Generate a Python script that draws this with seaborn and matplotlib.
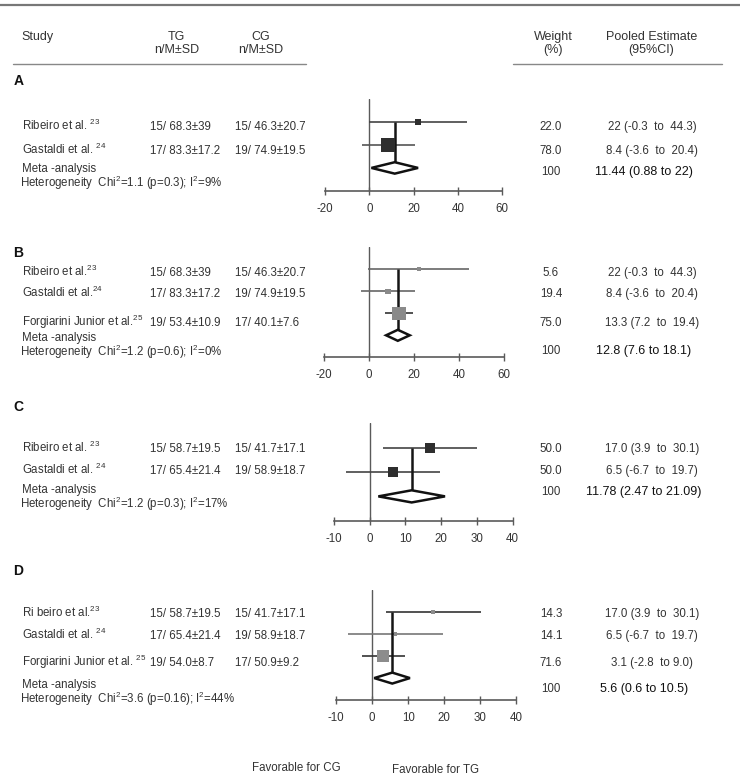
import matplotlib
matplotlib.use("Agg")
import matplotlib.pyplot as plt
from matplotlib.patches import Polygon
import seaborn as sns
import pandas as pd

sns.set_theme(style="white")
FAM = ['Liberation Sans', 'DejaVu Sans']
plt.rcParams['font.family'] = FAM
plt.rcParams['mathtext.fontset'] = 'custom'
plt.rcParams['mathtext.rm'] = 'Liberation Sans'
plt.rcParams['mathtext.it'] = 'Liberation Sans'
plt.rcParams['mathtext.bf'] = 'Liberation Sans:bold'

# ---------------- data ----------------
panel_labels = ["A", "B", "C", "D"]

studies_A = ["Ribeiro et al. ", "Gastaldi et al. "]
refs_A = ["23", "24"]
tg_A = ["15/ 68.3±39", "17/ 83.3±17.2"]
cg_A = ["15/ 46.3±20.7", "19/ 74.9±19.5"]
est_A = [22.0, 8.4]
lo_A = [-0.3, -3.6]
hi_A = [44.3, 20.4]
weight_A = [22.0, 78.0]
ci_text_A = ["22 (-0.3  to  44.3)", "8.4 (-3.6  to  20.4)"]
pooled_A = [11.44, 0.88, 22.0]
pooled_text_A = "11.44 (0.88 to 22)"
het_A = ["1.1", "0.3", "9"]
ticks_A = [-20, 0, 20, 40, 60]

studies_B = ["Ribeiro et al.", "Gastaldi et al.", "Forgiarini Junior et al."]
refs_B = ["23", "24", "25"]
tg_B = ["15/ 68.3±39", "17/ 83.3±17.2", "19/ 53.4±10.9"]
cg_B = ["15/ 46.3±20.7", "19/ 74.9±19.5", "17/ 40.1±7.6"]
est_B = [22.0, 8.4, 13.3]
lo_B = [-0.3, -3.6, 7.2]
hi_B = [44.3, 20.4, 19.4]
weight_B = [5.6, 19.4, 75.0]
ci_text_B = ["22 (-0.3  to  44.3)", "8.4 (-3.6  to  20.4)", "13.3 (7.2  to  19.4)"]
pooled_B = [12.8, 7.6, 18.1]
pooled_text_B = "12.8 (7.6 to 18.1)"
het_B = ["1.2", "0.6", "0"]
ticks_B = [-20, 0, 20, 40, 60]

studies_C = ["Ribeiro et al. ", "Gastaldi et al. "]
refs_C = ["23", "24"]
tg_C = ["15/ 58.7±19.5", "17/ 65.4±21.4"]
cg_C = ["15/ 41.7±17.1", "19/ 58.9±18.7"]
est_C = [17.0, 6.5]
lo_C = [3.9, -6.7]
hi_C = [30.1, 19.7]
weight_C = [50.0, 50.0]
ci_text_C = ["17.0 (3.9  to  30.1)", "6.5 (-6.7  to  19.7)"]
pooled_C = [11.78, 2.47, 21.09]
pooled_text_C = "11.78 (2.47 to 21.09)"
het_C = ["1.2", "0.3", "17"]
ticks_C = [-10, 0, 10, 20, 30, 40]

studies_D = ["Ri beiro et al.", "Gastaldi et al. ", "Forgiarini Junior et al. "]
refs_D = ["23", "24", "25"]
tg_D = ["15/ 58.7±19.5", "17/ 65.4±21.4", "19/ 54.0±8.7"]
cg_D = ["15/ 41.7±17.1", "19/ 58.9±18.7", "17/ 50.9±9.2"]
est_D = [17.0, 6.5, 3.1]
lo_D = [3.9, -6.7, -2.8]
hi_D = [30.1, 19.7, 9.0]
weight_D = [14.3, 14.1, 71.6]
ci_text_D = ["17.0 (3.9  to  30.1)", "6.5 (-6.7  to  19.7)", "3.1 (-2.8  to 9.0)"]
pooled_D = [5.6, 0.6, 10.5]
pooled_text_D = "5.6 (0.6 to 10.5)"
het_D = ["3.6", "0.16", "44"]
ticks_D = [-10, 0, 10, 20, 30, 40]

header_cols = ["Study", "TG\nn/M±SD", "CG\nn/M±SD", "Weight\n(%)", "Pooled Estimate\n(95%CI)"]
footer_left = "Favorable for CG"
footer_right = "Favorable for TG"

# ---------------- layout / style (pixels, y from top) ----------------
W, H = 740, 779
ROW_FS = 8.3
layout = {
    "A": dict(label_y=80, ax_box=(325.3, 502.0, 99.3, 190.8), rows_y=[126, 149.5], meta_y=167.5, het_y=183,
              pooled_y=171, sq=[6, 14], sq_color="#2e2e2e", ci_colors=["#444444", "#555555"]),
    "B": dict(label_y=252, ax_box=(324.0, 504.0, 247.3, 357.3), rows_y=[272, 293, 321.5], meta_y=337, het_y=352,
              pooled_y=350, sq=[4, 5.3, 13.5], sq_color="#8a8a8a", ci_colors=["#666666", "#666666", "#333333"]),
    "C": dict(label_y=406, ax_box=(333.7, 512.7, 423.4, 520.7), rows_y=[448, 470], meta_y=488.5, het_y=504,
              pooled_y=491, sq=[10, 10], sq_color="#2e2e2e", ci_colors=["#444444", "#444444"]),
    "D": dict(label_y=570, ax_box=(336.0, 516.3, 590.4, 700.0), rows_y=[613, 634.5, 662], meta_y=683.5, het_y=699,
              pooled_y=688, sq=[3.8, 3.8, 12.5], sq_color="#8c8c8c", ci_colors=["#333333", "#777777", "#333333"]),
}

panels = {
    "A": dict(studies=studies_A, refs=refs_A, tg=tg_A, cg=cg_A, est=est_A, lo=lo_A, hi=hi_A, w=weight_A,
              ci_text=ci_text_A, pooled=pooled_A, pooled_text=pooled_text_A, het=het_A, ticks=ticks_A),
    "B": dict(studies=studies_B, refs=refs_B, tg=tg_B, cg=cg_B, est=est_B, lo=lo_B, hi=hi_B, w=weight_B,
              ci_text=ci_text_B, pooled=pooled_B, pooled_text=pooled_text_B, het=het_B, ticks=ticks_B),
    "C": dict(studies=studies_C, refs=refs_C, tg=tg_C, cg=cg_C, est=est_C, lo=lo_C, hi=hi_C, w=weight_C,
              ci_text=ci_text_C, pooled=pooled_C, pooled_text=pooled_text_C, het=het_C, ticks=ticks_C),
    "D": dict(studies=studies_D, refs=refs_D, tg=tg_D, cg=cg_D, est=est_D, lo=lo_D, hi=hi_D, w=weight_D,
              ci_text=ci_text_D, pooled=pooled_D, pooled_text=pooled_text_D, het=het_D, ticks=ticks_D),
}

TXT = "#333333"
fig = plt.figure(figsize=(W / 100, H / 100), dpi=100)
fig.patch.set_facecolor("white")
bg = fig.add_axes([0, 0, 1, 1])
bg.set_xlim(0, W)
bg.set_ylim(H, 0)
bg.axis("off")


def cap_half(size):
    return 0.5 * 0.716 * size * 100 / 72


def txt(x, yc, s, size=ROW_FS, ha="left", color=TXT, weight="normal"):
    bg.text(x, yc + cap_half(size), s, fontsize=size, ha=ha, va="baseline", color=color,
            fontweight=weight)


# top rule and header rules
bg.plot([0, W], [5, 5], color="#777777", lw=1.6, solid_capstyle="butt")
bg.plot([13, 306], [64.3, 64.3], color="#888888", lw=1.0)
bg.plot([513, 722], [64.3, 64.3], color="#888888", lw=1.0)

# header
hx = [(21.7, "left"), (176.5, "center"), (261.0, "center"), (553.0, "center"), (651.5, "center")]
for (x, ha), lab in zip(hx, header_cols):
    parts = lab.split("\n")
    txt(x, 35.5, parts[0], size=9.0, ha=ha)
    if len(parts) > 1:
        txt(x, 48.5, parts[1], size=9.0, ha=ha)

for key in panel_labels:
    P = panels[key]
    L = layout[key]
    n = len(P["est"])
    # section label
    txt(13.5, L["label_y"], key, size=10, weight="bold", color="#111111")
    # study rows
    for i in range(n):
        y = L["rows_y"][i]
        txt(21.5, y, P["studies"][i] + r"$^{\mathrm{" + P["refs"][i] + "}}$")
        txt(149.5, y, P["tg"][i])
        txt(235.0, y, P["cg"][i])
        txt(551.0, y, f"{P['w'][i]:.1f}", ha="center")
        txt(652.0, y, P["ci_text"][i], ha="center")
    txt(22.0, L["meta_y"], "Meta -analysis")
    chi, p, i2 = P["het"]
    txt(20.0, L["het_y"], "Heterogeneity  Chi" + r"$^{\mathrm{2}}$" + f"={chi} (p={p}); I" + r"$^{\mathrm{2}}$" + f"={i2}%")
    txt(551.0, L["pooled_y"], "100", ha="center")
    txt(644.0, L["pooled_y"], P["pooled_text"], size=9.0, ha="center", color="#111111")

    # forest axes
    xl, xr, top, bot = L["ax_box"]
    ax = fig.add_axes([xl / W, 1 - bot / H, (xr - xl) / W, (bot - top) / H])
    ax.patch.set_alpha(0)
    df = pd.DataFrame({"row": list(range(n)), "est": P["est"], "lo": P["lo"], "hi": P["hi"], "w": P["w"]})
    ax.axvline(0, color="#5a5a5a", lw=1.0, zorder=1)
    ax.hlines(df["row"], df["lo"], df["hi"], colors=L["ci_colors"], lw=1.2, zorder=2)
    pe, plo, phi = P["pooled"]
    dh = 0.25
    ax.vlines(pe, 0, n - dh, color="#151515", lw=1.8, zorder=2)
    sizes = [(s * 0.72) ** 2 for s in L["sq"]]
    sns.scatterplot(data=df, x="est", y="row", marker="s", s=sizes, color=L["sq_color"],
                    linewidth=0, legend=False, ax=ax, zorder=3)
    diamond = Polygon([(plo, n), (pe, n - dh), (phi, n), (pe, n + dh)], closed=True,
                      facecolor="white", edgecolor="#111111", lw=1.8, zorder=4)
    ax.add_patch(diamond)
    ax.set_xlim(P["ticks"][0], P["ticks"][-1])
    ax.set_ylim(n + 1, -1)
    ax.set_xticks(P["ticks"])
    ax.set_xticklabels([str(t) for t in P["ticks"]])
    ax.set_yticks([])
    ax.set(xlabel="", ylabel="")
    for s in ["left", "top", "right"]:
        ax.spines[s].set_visible(False)
    ax.spines["bottom"].set_color("#5a5a5a")
    ax.spines["bottom"].set_linewidth(1.2)
    ax.tick_params(axis="x", bottom=True, direction="inout", length=6, width=1.0, color="#5a5a5a",
                   labelsize=8.3, labelcolor=TXT, pad=5.5)

# footer
txt(296, 767, footer_left, ha="center")
txt(436, 769, footer_right, ha="center")

fig.savefig("out.png", dpi=100)
